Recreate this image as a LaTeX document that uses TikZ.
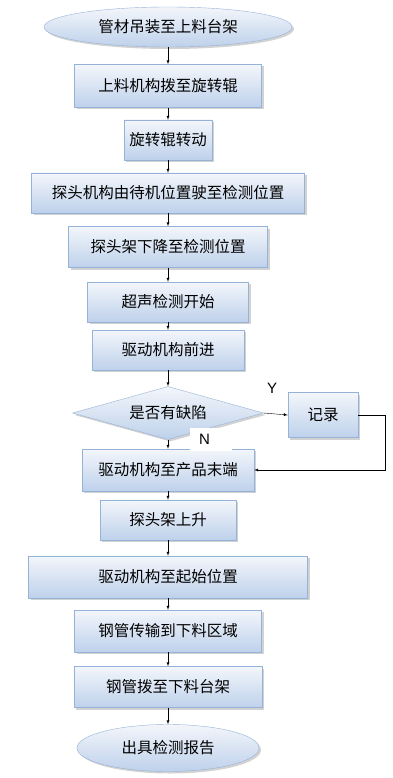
\documentclass[tikz,border=0pt]{standalone}
\usepackage{fontspec}
\setmainfont{Liberation Sans}
\newfontfamily\cjk{Noto Sans CJK SC}
\usetikzlibrary{shapes,arrows,shadows}

\definecolor{edgeblue}{RGB}{149,179,215}
\definecolor{topblue}{RGB}{243,246,251}
\definecolor{lowblue}{RGB}{190,209,235}

\tikzset{
	stepbox/.style={rectangle,draw=edgeblue,top color=topblue,bottom color=lowblue,
		drop shadow={shadow xshift=2pt,shadow yshift=-2pt,opacity=0.35},
		font=\cjk\fontsize{15.5}{18}\selectfont,inner sep=0pt},
	endbox/.style={stepbox,ellipse},
	askbox/.style={stepbox,diamond,aspect=3.6}
}

\begin{document}
\begin{tikzpicture}[x=1pt,y=-1pt]
	\useasboundingbox[fill=white] (0,0) rectangle (392,778);
	\node[endbox,minimum width=248,minimum height=40] (start) at (168,27) {管材吊装至上料台架};
	\node[stepbox,minimum width=187,minimum height=43] (feed) at (168,86) {上料机构拨至旋转辊};
	\node[stepbox,minimum width=88,minimum height=40] (spin) at (168,140) {旋转辊转动};
	\node[stepbox,minimum width=273,minimum height=40] (probe) at (168,193) {探头机构由待机位置驶至检测位置};
	\node[stepbox,minimum width=199,minimum height=41] (lower) at (168,247) {探头架下降至检测位置};
	\node[stepbox,minimum width=161,minimum height=40] (scan) at (168,302) {超声检测开始};
	\node[stepbox,minimum width=152,minimum height=40] (fwd) at (168,350) {驱动机构前进};
	\node[askbox,minimum width=191,minimum height=53] (flaw) at (168,413) {是否有缺陷};
	\node[stepbox,minimum width=70,minimum height=45] (rec) at (323,415) {记录};
	\node[stepbox,minimum width=172,minimum height=42] (tail) at (168,470) {驱动机构至产品末端};
	\node[stepbox,minimum width=136,minimum height=40] (raise) at (168,520) {探头架上升};
	\node[stepbox,minimum width=279,minimum height=42] (back) at (168,577) {驱动机构至起始位置};
	\node[stepbox,minimum width=187,minimum height=42] (move) at (168,631) {钢管传输到下料区域};
	\node[stepbox,minimum width=188,minimum height=41] (unload) at (168,687) {钢管拨至下料台架};
	\node[endbox,minimum width=182,minimum height=47] (report) at (168,748) {出具检测报告};

	\foreach \a/\b in {start/feed,feed/spin,spin/probe,probe/lower,lower/scan,scan/fwd,fwd/flaw,flaw/tail,tail/raise,raise/back,back/move,move/unload,unload/report}
		\draw[-latex] (\a) -- (\b);
	\draw[-latex] (flaw.east) -- (rec.west);
	\draw[-latex] (rec.east) -- ++(27,0) |- (tail.east);

	\node[font=\fontsize{15}{17}\selectfont] (ylab) at (272,388) {Y};
	\node[fill=white,anchor=west,text width=24pt,inner xsep=9pt,minimum height=23pt,font=\fontsize{15}{17}\selectfont] (nlab) at (190,439) {N};
\end{tikzpicture}
\end{document}
